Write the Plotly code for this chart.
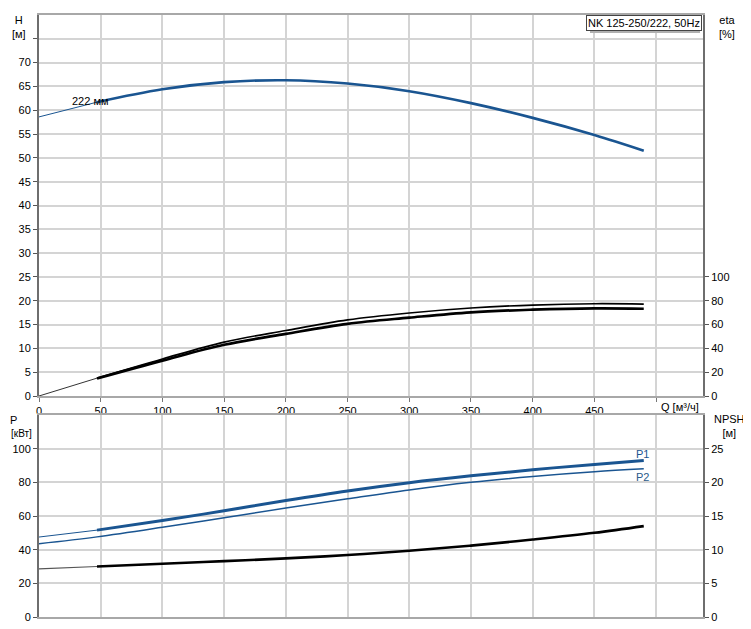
import plotly.graph_objects as go

# ---- data ----
Q = [0, 47, 100, 150, 200, 250, 300, 350, 400, 450, 490]
H = [58.6, 61.7, 64.4, 65.9, 66.3, 65.6, 64.0, 61.5, 58.4, 54.8, 51.5]
eta_upper = [0, 15.0, 31.1, 45.3, 55.0, 63.9, 69.7, 73.9, 76.4, 77.5, 77.2]
eta_lower = [0, 14.7, 29.7, 43.0, 52.2, 60.6, 65.8, 70.3, 72.5, 73.6, 73.3]
P1 = [47.5, 51.6, 57.3, 63.1, 69.2, 74.9, 79.8, 83.9, 87.5, 90.6, 92.9]
P2 = [43.5, 47.6, 53.3, 59.0, 64.7, 70.2, 75.5, 80.0, 83.5, 86.3, 88.0]
NPSH = [7.15, 7.5, 7.9, 8.3, 8.7, 9.2, 9.85, 10.6, 11.5, 12.5, 13.5]

x_ticks = [0, 50, 100, 150, 200, 250, 300, 350, 400, 450, 500]
x_labels = ["0", "50", "100", "150", "200", "250", "300", "350", "400", "450", ""]
H_ticks = list(range(0, 80, 5))
H_labels = [str(v) for v in range(0, 75, 5)] + [""]
eta_ticks = [0, 20, 40, 60, 80, 100]
P_ticks = [0, 20, 40, 60, 80, 100]
NPSH_ticks = [0, 5, 10, 15, 20, 25]

BLUE = "#1a5591"
FONT = "Liberation Sans, Arial, sans-serif"

# page has an 8px body margin; compensate so plot lands at the reference pixels
OFF = 8
W, Hpx = 751 - OFF, 629 - OFF
ML, MR, MT, MB = 39 - OFF, 48, 15 - OFF, 12
PW = W - ML - MR
PH = Hpx - MT - MB


def px(x):
    return (x - OFF - ML) / PW


def py(y):
    return (Hpx - MB - (y - OFF)) / PH


fig = go.Figure()

# --- top: H curve ---
fig.add_trace(go.Scatter(x=Q[:2], y=H[:2], mode="lines", line=dict(color=BLUE, width=1),
                         xaxis="x", yaxis="y", showlegend=False, hoverinfo="skip"))
fig.add_trace(go.Scatter(x=Q[1:], y=H[1:], mode="lines", line=dict(color=BLUE, width=2.6, shape="spline"),
                         xaxis="x", yaxis="y", showlegend=False))
# --- top: eta curves ---
fig.add_trace(go.Scatter(x=Q[:2], y=eta_upper[:2], mode="lines", line=dict(color="#333", width=1),
                         xaxis="x", yaxis="y2", showlegend=False, hoverinfo="skip"))
fig.add_trace(go.Scatter(x=Q[1:], y=eta_upper[1:], mode="lines", line=dict(color="black", width=1.7, shape="spline"),
                         xaxis="x", yaxis="y2", showlegend=False))
fig.add_trace(go.Scatter(x=Q[1:], y=eta_lower[1:], mode="lines", line=dict(color="black", width=2.7, shape="spline"),
                         xaxis="x", yaxis="y2", showlegend=False))

# --- bottom: power curves ---
fig.add_trace(go.Scatter(x=Q[:2], y=P1[:2], mode="lines", line=dict(color=BLUE, width=1),
                         xaxis="x2", yaxis="y3", showlegend=False, hoverinfo="skip"))
fig.add_trace(go.Scatter(x=Q[1:], y=P1[1:], mode="lines", line=dict(color=BLUE, width=3, shape="spline"),
                         xaxis="x2", yaxis="y3", showlegend=False))
fig.add_trace(go.Scatter(x=Q, y=P2, mode="lines", line=dict(color=BLUE, width=1.5, shape="spline"),
                         xaxis="x2", yaxis="y3", showlegend=False))
# --- bottom: NPSH ---
fig.add_trace(go.Scatter(x=Q[:2], y=NPSH[:2], mode="lines", line=dict(color="#555", width=1.2),
                         xaxis="x2", yaxis="y4", showlegend=False, hoverinfo="skip"))
fig.add_trace(go.Scatter(x=Q[1:], y=NPSH[1:], mode="lines", line=dict(color="black", width=2.6, shape="spline"),
                         xaxis="x2", yaxis="y4", showlegend=False))

top_dom = [py(396), 1.0]
bot_dom = [0.0, py(415)]
GRID = "#d4d4d4"
tickfont = dict(family=FONT, size=11, color="black")

common_x = dict(range=[0, 538], tickvals=x_ticks, showgrid=True, gridcolor=GRID, gridwidth=1.5,
                zeroline=False, showline=True, linecolor="#a8a8a8", linewidth=2, mirror=True,
                tickfont=tickfont)

fig.update_layout(
    width=W, height=Hpx,
    margin=dict(l=ML, r=MR, t=MT, b=MB, autoexpand=False),
    paper_bgcolor="white", plot_bgcolor="white",
    font=dict(family=FONT, size=11, color="black"),
    xaxis=dict(**common_x, anchor="y", ticktext=x_labels, ticks="outside", ticklen=4,
               tickcolor="#777"),
    yaxis=dict(domain=top_dom, range=[0, 80], tickvals=H_ticks, ticktext=H_labels,
               showgrid=True, gridcolor=GRID, gridwidth=1.5, zeroline=False,
               showline=True, linecolor="#6e6e6e", linewidth=2, ticks="outside", ticklen=4,
               tickcolor="#555", tickfont=tickfont, anchor="x"),
    yaxis2=dict(overlaying="y", side="right", range=[0, 320], tickvals=eta_ticks,
                showgrid=False, zeroline=False, showline=True, linecolor="#6e6e6e", linewidth=2,
                ticks="outside", ticklen=4, tickcolor="#555", tickfont=tickfont, anchor="x"),
    xaxis2=dict(**common_x, anchor="y3", showticklabels=False, ticks=""),
    yaxis3=dict(domain=bot_dom, range=[0, 120], tickvals=P_ticks,
                showgrid=True, gridcolor=GRID, gridwidth=1.5, zeroline=False,
                showline=True, linecolor="#6e6e6e", linewidth=2, ticks="outside", ticklen=4,
                tickcolor="#555", tickfont=tickfont, anchor="x2"),
    yaxis4=dict(overlaying="y3", side="right", range=[0, 30], tickvals=NPSH_ticks,
                showgrid=False, zeroline=False, showline=True, linecolor="#6e6e6e", linewidth=2,
                ticks="outside", ticklen=4, tickcolor="#555", tickfont=tickfont, anchor="x2"),
)

ann_font = dict(family=FONT, size=11, color="black")


def label(text, x, y, color="black", xanchor="center", size=11):
    fig.add_annotation(text=text, x=px(x), y=py(y), xref="paper", yref="paper",
                       showarrow=False, xanchor=xanchor, yanchor="middle",
                       font=dict(family=FONT, size=size, color=color))


label("H<br>[м]", 19, 27)
label("eta<br>[%]", 727, 27)
label("P", 13, 420)
label("[кВт]", 9, 433, xanchor="left", size=10)
label("NPSH<br>[м]", 729, 426)
label("Q [м³/ч]", 680, 407)
label("222 мм", 90, 101)
label("P1", 642, 454, color=BLUE)
label("P2", 642, 477, color="#2a5a8a")

# legend box with shadow
fig.add_shape(type="rect", xref="paper", yref="paper",
              x0=px(590), x1=px(700), y0=py(33), y1=py(17),
              fillcolor="#b0b0b0", line=dict(width=0), layer="above")
fig.add_annotation(text="NK 125-250/222, 50Hz", x=px(702), y=py(15), xref="paper", yref="paper",
                   showarrow=False, xanchor="right", yanchor="top",
                   bgcolor="white", bordercolor="#444", borderwidth=1, borderpad=1,
                   font=ann_font)

fig.write_html("out.html")
